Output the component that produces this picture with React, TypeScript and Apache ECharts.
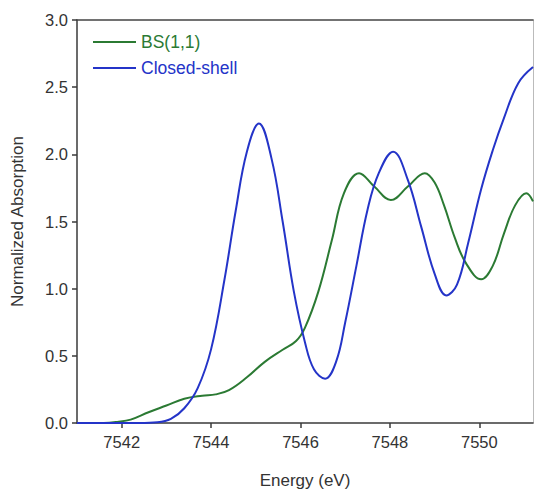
import React, { useEffect, useRef } from "react";
import * as echarts from "echarts";

const xTicks = [7542, 7544, 7546, 7548, 7550];
const yTicks = [0, 0.5, 1.0, 1.5, 2.0, 2.5, 3.0];

const bsEnergy = [
  7541.0, 7541.6, 7541.9, 7542.2, 7542.6, 7543.0, 7543.4, 7543.8, 7544.1, 7544.4,
  7544.8, 7545.2, 7545.6, 7545.9, 7546.1, 7546.4, 7546.7, 7546.97, 7547.31, 7547.65,
  7548.02, 7548.4, 7548.78, 7549.0, 7549.21, 7549.45, 7549.7, 7550.04, 7550.3, 7550.55,
  7550.8, 7551.05, 7551.2,
];
const bsValues = [
  0.0, 0.0, 0.008, 0.025, 0.08, 0.13, 0.18, 0.203, 0.213, 0.245,
  0.34, 0.455, 0.545, 0.61, 0.71, 0.98, 1.36, 1.71, 1.86, 1.76,
  1.66, 1.76, 1.86, 1.79, 1.62, 1.38, 1.19, 1.07, 1.17, 1.41,
  1.62, 1.71, 1.65,
];

const csEnergy = [
  7541.0, 7542.4, 7542.8, 7543.1, 7543.4, 7543.7, 7544.0, 7544.3, 7544.55, 7544.8,
  7545.07, 7545.35, 7545.6, 7545.85, 7546.1, 7546.3, 7546.55, 7546.8, 7547.0, 7547.25,
  7547.5, 7547.75, 7548.07, 7548.4, 7548.7, 7549.0, 7549.26, 7549.5, 7549.75, 7550.04,
  7550.3, 7550.55, 7550.87, 7551.2,
];
const csValues = [
  0.0, 0.0, 0.005, 0.03, 0.11, 0.26, 0.55, 1.07, 1.58, 2.02,
  2.23, 1.97, 1.5, 0.98, 0.6, 0.4, 0.33, 0.46, 0.75, 1.17,
  1.59, 1.86, 2.02, 1.81, 1.46, 1.11, 0.95, 1.03, 1.34, 1.74,
  2.03, 2.27, 2.53, 2.65,
];

const seriesNames = ["BS(1,1)", "Closed-shell"];
const seriesColors = ["#2b7a33", "#2434c8"];

const FONT = "'Liberation Sans', Arial, Helvetica, sans-serif";
const TEXT = "#333333";

export default function App() {
  const ref = useRef<HTMLDivElement>(null);
  useEffect(() => {
    if (!ref.current) return;
    const chart = echarts.init(ref.current, undefined, { renderer: "svg" });
    const bsData = bsEnergy.map((e, i) => [e, bsValues[i]]);
    const csData = csEnergy.map((e, i) => [e, csValues[i]]);
    chart.setOption({
      animation: false,
      backgroundColor: "#ffffff",
      textStyle: { fontFamily: FONT },
      grid: { left: 77, right: 1, top: 20, bottom: 70, containLabel: false },
      legend: {
        orient: "vertical",
        left: 93,
        top: 33,
        padding: 0,
        itemWidth: 43,
        itemHeight: 2,
        itemGap: 8,
        icon: "rect",
        data: seriesNames.map((n, i) => ({
          name: n,
          textStyle: { color: seriesColors[i], fontSize: 17.5, fontFamily: FONT },
        })),
      },
      xAxis: [
        {
          type: "value",
          min: 7541,
          max: 7551.2,
          name: "Energy (eV)",
          nameLocation: "middle",
          nameGap: 49,
          nameTextStyle: { color: TEXT, fontSize: 17, fontFamily: FONT },
          axisLine: { show: true, lineStyle: { color: "#3a3a3a", width: 1.5 } },
          axisTick: {
            show: true,
            length: 5,
            inside: false,
            customValues: xTicks,
            lineStyle: { color: "#3a3a3a", width: 1.5 },
          },
          axisLabel: {
            customValues: xTicks,
            color: TEXT,
            fontSize: 16.5,
            fontFamily: FONT,
            margin: 10,
            formatter: (v: number) => String(v),
          },
          splitLine: { show: false },
        },
        {
          type: "value",
          position: "top",
          min: 7541,
          max: 7551.2,
          axisLine: { show: true, onZero: false, lineStyle: { color: "#444444", width: 1.5 } },
          axisTick: { show: false },
          axisLabel: { show: false },
          splitLine: { show: false },
        },
      ],
      yAxis: [
        {
          type: "value",
          min: 0,
          max: 3,
          interval: 0.5,
          name: "Normalized Absorption",
          nameLocation: "middle",
          nameGap: 51,
          nameTextStyle: { color: TEXT, fontSize: 17, fontFamily: FONT },
          axisLine: { show: true, lineStyle: { color: "#3a3a3a", width: 1.5 } },
          axisTick: { show: true, length: 5, inside: false, lineStyle: { color: "#3a3a3a", width: 1.5 } },
          axisLabel: {
            color: TEXT,
            fontSize: 16.5,
            fontFamily: FONT,
            margin: 9,
            customValues: yTicks,
            formatter: (v: number) => v.toFixed(1),
          },
          splitLine: { show: false },
        },
        {
          type: "value",
          position: "right",
          min: 0,
          max: 3,
          interval: 0.5,
          axisLine: { show: true, onZero: false, lineStyle: { color: "#bbbbbb", width: 1 } },
          axisTick: { show: false },
          axisLabel: { show: false },
          splitLine: { show: false },
        },
      ],
      series: [
        {
          name: seriesNames[0],
          type: "line",
          data: bsData,
          smooth: 0.4,
          showSymbol: false,
          symbol: "none",
          lineStyle: { color: seriesColors[0], width: 2 },
          itemStyle: { color: seriesColors[0] },
          z: 2,
        },
        {
          name: seriesNames[1],
          type: "line",
          data: csData,
          smooth: 0.4,
          showSymbol: false,
          symbol: "none",
          lineStyle: { color: seriesColors[1], width: 2 },
          itemStyle: { color: seriesColors[1] },
          z: 3,
        },
      ],
    });
    return () => chart.dispose();
  }, []);
  return (
    <div
      ref={ref}
      style={{ position: "absolute", left: 0, top: 0, width: 534, height: 494 }}
    />
  );
}
